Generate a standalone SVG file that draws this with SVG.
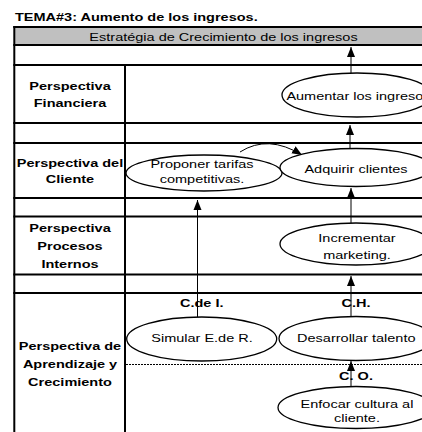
<svg xmlns="http://www.w3.org/2000/svg" width="422" height="432" viewBox="0 0 422 432">
<style>
text{font-family:"Liberation Sans",Arial,sans-serif;font-size:11.6px;fill:#000}
.b{font-weight:bold}
.c{text-anchor:middle}
.g{stroke:#000;stroke-width:2;fill:none}
.e{fill:#fff;stroke:#000;stroke-width:1.3}
.a{stroke:#000;stroke-width:1;fill:none;marker-end:url(#ah)}
</style>
<defs>
<marker id="ah" markerUnits="userSpaceOnUse" markerWidth="10" markerHeight="10" viewBox="0 0 10 8" refX="10" refY="4" orient="auto">
<path d="M0,0 L10,4 L0,8 Z" fill="#000"/>
</marker>
</defs>
<rect width="422" height="432" fill="#fff"/>
<text class="b" transform="translate(15,21) scale(1.25,1)">TEMA#3: Aumento de los ingresos.</text>
<g id="grid">
<rect x="14" y="27" width="410" height="17.5" fill="#c0c0c0"/>
<line class="g" x1="13.3" y1="27" x2="424" y2="27"/>
<line class="g" x1="13.3" y1="45" x2="424" y2="45"/>
<line class="g" x1="13.3" y1="65" x2="424" y2="65"/>
<line class="g" x1="13.3" y1="123" x2="424" y2="123"/>
<line class="g" x1="13.3" y1="143" x2="424" y2="143"/>
<line class="g" x1="13.3" y1="198" x2="424" y2="198"/>
<line class="g" x1="13.3" y1="216.5" x2="424" y2="216.5"/>
<line class="g" x1="13.3" y1="274.5" x2="424" y2="274.5"/>
<line class="g" x1="13.3" y1="293" x2="424" y2="293"/>
<line class="g" x1="14.3" y1="26" x2="14.3" y2="434"/>
<line class="g" x1="125" y1="65" x2="125" y2="434"/>
<line x1="126" y1="364.5" x2="424" y2="364.5" stroke="#000" stroke-width="1" stroke-dasharray="2 1"/>
<text class="c" transform="translate(223.5,41) scale(1.25,1)">Estratégia de Crecimiento de los ingresos</text>
</g>
<g id="labels">
<text class="b c" transform="translate(70,90) scale(1.25,1)"><tspan x="0" y="0">Perspectiva</tspan><tspan x="0" y="17.5">Financiera</tspan></text>
<text class="b c" transform="translate(70,166.5) scale(1.25,1)"><tspan x="0" y="0">Perspectiva del</tspan><tspan x="0" y="17">Cliente</tspan></text>
<text class="b c" transform="translate(70,232) scale(1.25,1)"><tspan x="0" y="0">Perspectiva</tspan><tspan x="0" y="18">Procesos</tspan><tspan x="0" y="36">Internos</tspan></text>
<text class="b c" transform="translate(70,350) scale(1.25,1)"><tspan x="0" y="0">Perspectiva de</tspan><tspan x="0" y="18">Aprendizaje y</tspan><tspan x="0" y="36">Crecimiento</tspan></text>
</g>
<g id="connectors">
<line class="a" x1="351" y1="73" x2="351" y2="47"/>
<line class="a" x1="350" y1="149" x2="350" y2="125"/>
<path class="a" d="M240,152 Q268,134 302,155"/>
<line class="a" x1="351" y1="223" x2="351" y2="188"/>
<line class="a" x1="197.5" y1="317" x2="197.5" y2="200"/>
<line class="a" x1="351" y1="317" x2="351" y2="276"/>
<line class="a" x1="351" y1="387" x2="351" y2="361"/>
</g>
<g id="n-aumentar">
<ellipse class="e" cx="357" cy="95" rx="75" ry="22"/>
<text class="c" transform="translate(358.5,100) scale(1.25,1)">Aumentar los ingresos</text>
</g>
<g id="n-proponer">
<ellipse class="e" cx="204" cy="173" rx="78" ry="18"/>
<text class="c" transform="translate(202,168.3) scale(1.25,1)"><tspan x="0" y="0">Proponer tarifas</tspan><tspan x="0" y="15">competitivas.</tspan></text>
</g>
<g id="n-adquirir">
<ellipse class="e" cx="356" cy="167.5" rx="76" ry="19"/>
<text class="c" transform="translate(356,173) scale(1.25,1)">Adquirir clientes</text>
</g>
<g id="n-incrementar">
<ellipse class="e" cx="356" cy="244" rx="76" ry="21"/>
<text class="c" transform="translate(357,241.7) scale(1.25,1)"><tspan x="0" y="0">Incrementar</tspan><tspan x="0" y="17.5">marketing.</tspan></text>
</g>
<g id="n-simular">
<text class="b c" transform="translate(201.7,306.7) scale(1.25,1)">C.de I.</text>
<ellipse class="e" cx="201.7" cy="339" rx="75" ry="22"/>
<text class="c" transform="translate(202,342) scale(1.25,1)">Simular E.de R.</text>
</g>
<g id="n-desarrollar">
<text class="b c" transform="translate(356,306.7) scale(1.25,1)">C.H.</text>
<ellipse class="e" cx="356" cy="338.5" rx="77" ry="22"/>
<text class="c" transform="translate(356.3,342) scale(1.25,1)">Desarrollar talento</text>
</g>
<g id="n-enfocar">
<text class="b c" transform="translate(356,380) scale(1.25,1)">C. O.</text>
<ellipse class="e" cx="356" cy="407.5" rx="78" ry="21"/>
<text class="c" transform="translate(357,408.3) scale(1.25,1)"><tspan x="0" y="0">Enfocar cultura al</tspan><tspan x="0" y="13.5">cliente.</tspan></text>
</g>
</svg>
